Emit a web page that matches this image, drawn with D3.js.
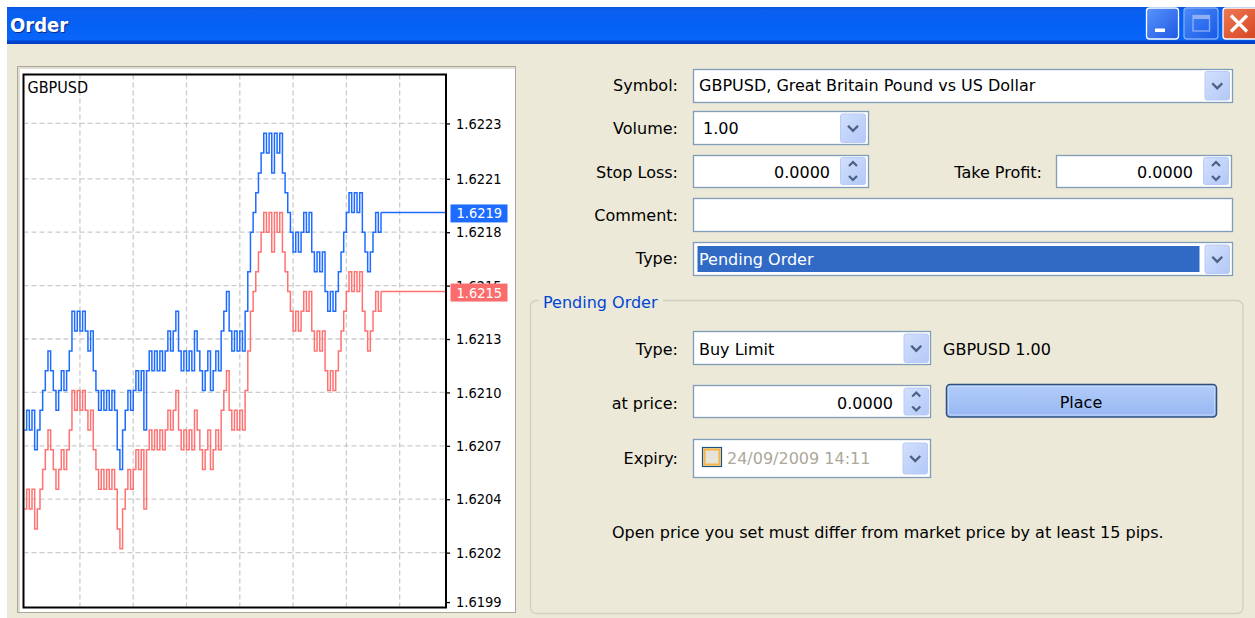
<!DOCTYPE html>
<html>
<head>
<meta charset="utf-8">
<script src="https://cdn.jsdelivr.net/npm/d3@7"></script>
<style>
  html, body { margin: 0; padding: 0; background: #fff; overflow: hidden; }
</style>
</head>
<body>
<div id="chart"></div>
<script>
// ---- data ----
const symbolName = "GBPUSD";

// ask ticks (blue) and bid ticks (red)
const askQuotes = [
  1.6208,1.6209,1.6208,1.6209,1.6207,1.6208,1.6209,1.6210,1.6211,1.6212,
  1.6211,1.6210,1.6209,1.6210,1.6211,1.6210,1.6211,1.6212,1.6214,1.6213,
  1.6214,1.6213,1.6214,1.6213,1.6212,1.6213,1.6211,1.6210,1.6209,1.6210,
  1.6209,1.6210,1.6209,1.6210,1.6209,1.6207,1.6206,1.6208,1.6209,1.6210,
  1.6209,1.6210,1.6211,1.6210,1.6211,1.6208,1.6211,1.6212,1.6211,1.6212,
  1.6211,1.6212,1.6211,1.6212,1.6213,1.6212,1.6213,1.6214,1.6212,1.6211,
  1.6212,1.6211,1.6212,1.6211,1.6213,1.6212,1.6211,1.6210,1.6211,1.6212,
  1.6210,1.6211,1.6212,1.6211,1.6213,1.6214,1.6215,1.6213,1.6212,1.6213,
  1.6212,1.6213,1.6212,1.6214,1.6216,1.6218,1.6219,1.6220,1.6221,1.6222,
  1.6223,1.6222,1.6223,1.6221,1.6223,1.6222,1.6223,1.6221,1.6220,1.6219,
  1.6218,1.6217,1.6218,1.6217,1.6218,1.6219,1.6218,1.6219,1.6217,1.6216,
  1.6217,1.6216,1.6217,1.6215,1.6214,1.6215,1.6214,1.6215,1.6216,1.6217,
  1.6218,1.6219,1.6220,1.6219,1.6220,1.6219,1.6220,1.6218,1.6217,1.6216,
  1.6217,1.6218,1.6219,1.6218,1.6219
];
const bidQuotes = [
  1.6204,1.6205,1.6204,1.6205,1.6203,1.6204,1.6205,1.6206,1.6207,1.6208,
  1.6207,1.6206,1.6205,1.6206,1.6207,1.6206,1.6207,1.6208,1.6210,1.6209,
  1.6210,1.6209,1.6210,1.6209,1.6208,1.6209,1.6207,1.6206,1.6205,1.6206,
  1.6205,1.6206,1.6205,1.6206,1.6205,1.6203,1.6202,1.6204,1.6205,1.6206,
  1.6205,1.6206,1.6207,1.6206,1.6207,1.6204,1.6207,1.6208,1.6207,1.6208,
  1.6207,1.6208,1.6207,1.6208,1.6209,1.6208,1.6209,1.6210,1.6208,1.6207,
  1.6208,1.6207,1.6208,1.6207,1.6209,1.6208,1.6207,1.6206,1.6207,1.6208,
  1.6206,1.6207,1.6208,1.6207,1.6209,1.6210,1.6211,1.6209,1.6208,1.6209,
  1.6208,1.6209,1.6208,1.6210,1.6212,1.6214,1.6215,1.6216,1.6217,1.6218,
  1.6219,1.6218,1.6219,1.6217,1.6219,1.6218,1.6219,1.6217,1.6216,1.6215,
  1.6214,1.6213,1.6214,1.6213,1.6214,1.6215,1.6214,1.6215,1.6213,1.6212,
  1.6213,1.6212,1.6213,1.6211,1.6210,1.6211,1.6210,1.6211,1.6212,1.6213,
  1.6214,1.6215,1.6216,1.6215,1.6216,1.6215,1.6216,1.6214,1.6213,1.6212,
  1.6213,1.6214,1.6215,1.6214,1.6215
];
const lastAsk = 1.6219;
const lastBid = 1.6215;

// price axis
const axisPrices = [1.62235, 1.62207, 1.62180, 1.62153, 1.62126, 1.62099, 1.62072, 1.62045, 1.62018, 1.61993];
const priceLabels = ["1.6223", "1.6221", "1.6218", "1.6215", "1.6213", "1.6210", "1.6207", "1.6204", "1.6202", "1.6199"];
const priceDomain = [1.6199, 1.6226];
// vertical grid every 20 ticks
const timeGridTicks = [21, 41, 61, 81, 101, 121, 141];

const CHART_FONT = "'DejaVu Sans Condensed', 'DejaVu Sans', sans-serif";
const UI_FONT = "'DejaVu Sans', sans-serif";
const W = 1255, H = 618;
const plot = {left: 23.5, right: 446, top: 74.5, bottom: 607.5};

const x = d3.scaleLinear()
    .domain([0, askQuotes.length - 1])
    .range([24, 381]);

const y = d3.scaleLinear()
    .domain(priceDomain)
    .range([608, 74]);

const svg = d3.select("#chart").append("svg")
    .attr("width", W)
    .attr("height", H)
    .attr("viewBox", [0, 0, W, H])
    .style("font-family", CHART_FONT);

const defs = svg.append("defs");

const titleGrad = defs.append("linearGradient").attr("id", "titleGrad")
    .attr("x1", 0).attr("y1", 0).attr("x2", 0).attr("y2", 1);
[["0%", "#0a55e0"], ["10%", "#0a5fef"], ["55%", "#0461f6"], ["88%", "#0a66fb"], ["92%", "#0048d4"], ["100%", "#003bbf"]]
    .forEach(s => titleGrad.append("stop").attr("offset", s[0]).attr("stop-color", s[1]));

const capGrad = defs.append("linearGradient").attr("id", "capGrad")
    .attr("x1", 0).attr("y1", 0).attr("x2", 1).attr("y2", 1);
capGrad.append("stop").attr("offset", "0%").attr("stop-color", "#5b95fb");
capGrad.append("stop").attr("offset", "100%").attr("stop-color", "#1d57e3");

const closeGrad = defs.append("linearGradient").attr("id", "closeGrad")
    .attr("x1", 0).attr("y1", 0).attr("x2", 1).attr("y2", 1);
closeGrad.append("stop").attr("offset", "0%").attr("stop-color", "#ee7a55");
closeGrad.append("stop").attr("offset", "100%").attr("stop-color", "#d3401c");

const btnGrad = defs.append("linearGradient").attr("id", "btnGrad")
    .attr("x1", 0).attr("y1", 0).attr("x2", 1).attr("y2", 1);
btnGrad.append("stop").attr("offset", "0%").attr("stop-color", "#d3e0fd");
btnGrad.append("stop").attr("offset", "100%").attr("stop-color", "#b2c8f7");

const placeGrad = defs.append("linearGradient").attr("id", "placeGrad")
    .attr("x1", 0).attr("y1", 0).attr("x2", 0).attr("y2", 1);
placeGrad.append("stop").attr("offset", "0%").attr("stop-color", "#b3cdf9");
placeGrad.append("stop").attr("offset", "100%").attr("stop-color", "#97b7f3");

defs.append("clipPath").attr("id", "plotClip")
    .append("rect")
    .attr("x", plot.left + 1).attr("y", plot.top + 1)
    .attr("width", plot.right - plot.left - 2).attr("height", plot.bottom - plot.top - 2);

// ---- window ----
svg.append("rect").attr("width", W).attr("height", H).attr("fill", "#fff");
svg.append("rect").attr("x", 7).attr("y", 7).attr("width", W - 7).attr("height", H - 7).attr("fill", "#ece9d8");
svg.append("rect").attr("x", 7).attr("y", 7).attr("width", W - 7).attr("height", 37).attr("fill", "url(#titleGrad)");

svg.append("text").attr("x", 11).attr("y", 32.5)
    .attr("font-size", 20).attr("font-weight", "bold").attr("fill", "#0b2a80")
    .text("Order");
svg.append("text").attr("x", 10).attr("y", 31.5)
    .attr("font-size", 20).attr("font-weight", "bold").attr("fill", "#fff")
    .text("Order");

// caption buttons
svg.append("rect").attr("x", 1146.5).attr("y", 8).attr("width", 32).attr("height", 31).attr("rx", 3)
    .attr("fill", "url(#capGrad)").attr("stroke", "#fff").attr("stroke-width", 1.3);
svg.append("rect").attr("x", 1155).attr("y", 28.5).attr("width", 10).attr("height", 3.5).attr("fill", "#fff");

svg.append("rect").attr("x", 1184).attr("y", 8).attr("width", 34).attr("height", 31).attr("rx", 3)
    .attr("fill", "url(#capGrad)").attr("stroke", "#9fbdf8").attr("stroke-width", 1.3).attr("opacity", 0.8);
svg.append("rect").attr("x", 1193).attr("y", 15.5).attr("width", 16.5).attr("height", 15.5)
    .attr("fill", "none").attr("stroke", "#8fb0f4").attr("stroke-width", 1.3);
svg.append("rect").attr("x", 1193).attr("y", 15).attr("width", 16.5).attr("height", 4).attr("fill", "#8fb0f4");

svg.append("rect").attr("x", 1223).attr("y", 8).attr("width", 40).attr("height", 31).attr("rx", 3)
    .attr("fill", "url(#closeGrad)").attr("stroke", "#fff").attr("stroke-width", 1.3);
svg.append("path").attr("d", "M1231,15.5L1247,31.5M1247,15.5L1231,31.5")
    .attr("stroke", "#fff").attr("stroke-width", 3.2);

// ---- chart panel ----
svg.append("rect").attr("x", 17.5).attr("y", 66.5).attr("width", 498).attr("height", 546)
    .attr("fill", "#fff").attr("stroke", "#aca899");
svg.append("path").attr("d", "M19,612V68H515")
    .attr("fill", "none").attr("stroke", "#d6d3c6").attr("stroke-width", 1.5);

const grid = svg.append("g")
    .attr("clip-path", "url(#plotClip)")
    .attr("stroke", "#cbcbcb")
    .attr("stroke-width", 1.3)
    .attr("stroke-dasharray", "5,3");

grid.selectAll("line.h")
    .data(axisPrices.slice(0, -1))
    .join("line")
    .attr("class", "h")
    .attr("x1", plot.left).attr("x2", plot.right)
    .attr("y1", d => y(d)).attr("y2", d => y(d));

grid.selectAll("line.v")
    .data(timeGridTicks)
    .join("line")
    .attr("class", "v")
    .attr("x1", d => x(d)).attr("x2", d => x(d))
    .attr("y1", plot.top).attr("y2", plot.bottom);

svg.append("text").attr("x", 27.5).attr("y", 92.5)
    .attr("font-size", 16).attr("fill", "#000")
    .text(symbolName);

// ticks drawn as steps, like the terminal does
const line = d3.line()
    .x((d, i) => x(i))
    .y(d => y(d))
    .curve(d3.curveStepAfter);

const series = svg.append("g").attr("clip-path", "url(#plotClip)").attr("fill", "none").attr("stroke-width", 1.5);

series.append("path").datum(bidQuotes)
    .attr("stroke", "#ff7272")
    .attr("d", line);
series.append("line")
    .attr("x1", x(bidQuotes.length - 1)).attr("x2", plot.right)
    .attr("y1", y(lastBid)).attr("y2", y(lastBid))
    .attr("stroke", "#ff7272");

series.append("path").datum(askQuotes)
    .attr("stroke", "#1e6cff")
    .attr("d", line);
series.append("line")
    .attr("x1", x(askQuotes.length - 1)).attr("x2", plot.right)
    .attr("y1", y(lastAsk)).attr("y2", y(lastAsk))
    .attr("stroke", "#1e6cff");

// price axis on the right
svg.append("g")
    .attr("transform", `translate(${plot.right},0)`)
    .call(d3.axisRight(y).tickValues(axisPrices).tickFormat((d, i) => priceLabels[i]).tickSize(4).tickPadding(6))
    .call(g => g.select(".domain").remove())
    .call(g => g.selectAll("line").attr("stroke", "#000").attr("stroke-width", 1.3))
    .call(g => g.selectAll("text")
        .attr("fill", "#000")
        .style("font-family", CHART_FONT)
        .style("font-size", "14.5px"));

// current price tags
const priceTag = (price, color) => {
    const g = svg.append("g");
    g.append("rect")
        .attr("x", 450.5).attr("y", y(price) - 8)
        .attr("width", 57).attr("height", 18)
        .attr("fill", color);
    g.append("text")
        .attr("x", 456.5).attr("y", y(price) + 6)
        .attr("fill", "#fff")
        .attr("font-size", 14.5)
        .text(price.toFixed(4));
};
priceTag(lastAsk, "#1e6cff");
priceTag(lastBid, "#fb6d6d");

svg.append("rect")
    .attr("x", plot.left).attr("y", plot.top)
    .attr("width", plot.right - plot.left).attr("height", plot.bottom - plot.top)
    .attr("fill", "none").attr("stroke", "#000").attr("stroke-width", 2);

// ---- order form ----
const ui = svg.append("g").attr("font-size", 16).attr("fill", "#000").style("font-family", UI_FONT);

const label = (text, xr, yb) => ui.append("text")
    .attr("x", xr).attr("y", yb).attr("text-anchor", "end").text(text);

const field = (x0, y0, w, h) => ui.append("rect")
    .attr("x", x0 + 0.5).attr("y", y0 + 0.5)
    .attr("width", w - 1).attr("height", h - 1)
    .attr("fill", "#fff").attr("stroke", "#7f9db9").attr("stroke-width", 1.3);

const dropButton = (x0, y0, w, h) => {
    ui.append("rect").attr("x", x0).attr("y", y0).attr("width", w).attr("height", h).attr("rx", 2)
        .attr("fill", "url(#btnGrad)").attr("stroke", "#b8cbf6");
    const cx = x0 + w / 2, cy = y0 + h / 2;
    ui.append("path").attr("d", `M${cx - 5},${cy - 2.5}L${cx},${cy + 2.5}L${cx + 5},${cy - 2.5}`)
        .attr("fill", "none").attr("stroke", "#4d6185").attr("stroke-width", 2.4);
};

const spinButton = (x0, y0, w, h) => {
    ui.append("rect").attr("x", x0).attr("y", y0).attr("width", w).attr("height", h).attr("rx", 2)
        .attr("fill", "url(#btnGrad)").attr("stroke", "#b8cbf6");
    const cx = x0 + w / 2;
    ui.append("path").attr("d", `M${cx - 4},${y0 + 8.5}L${cx},${y0 + 4.5}L${cx + 4},${y0 + 8.5}`)
        .attr("fill", "none").attr("stroke", "#4d6185").attr("stroke-width", 2.2);
    ui.append("path").attr("d", `M${cx - 4},${y0 + h - 8.5}L${cx},${y0 + h - 4.5}L${cx + 4},${y0 + h - 8.5}`)
        .attr("fill", "none").attr("stroke", "#4d6185").attr("stroke-width", 2.2);
};

label("Symbol:", 678, 91);
field(693, 69, 540, 34);
ui.append("text").attr("x", 699).attr("y", 91).text("GBPUSD, Great Britain Pound vs US Dollar");
dropButton(1205, 71.5, 24.5, 28.5);

label("Volume:", 678, 134);
field(693, 111, 176, 34);
ui.append("text").attr("x", 703).attr("y", 134).text("1.00");
dropButton(840.5, 114, 25, 28.5);

label("Stop Loss:", 678, 177.5);
field(693, 155, 176, 33);
ui.append("text").attr("x", 830).attr("y", 177.5).attr("text-anchor", "end").text("0.0000");
spinButton(840.5, 157.5, 25, 27);

label("Take Profit:", 1042, 177.5);
field(1056, 155, 176, 33);
ui.append("text").attr("x", 1193).attr("y", 177.5).attr("text-anchor", "end").text("0.0000");
spinButton(1203.5, 157.5, 25, 27);

label("Comment:", 678, 221);
field(693, 198, 540, 34);

label("Type:", 678, 264);
field(693, 242, 540, 34);
ui.append("rect").attr("x", 697.5).attr("y", 246).attr("width", 502).attr("height", 26).attr("fill", "#316ac5");
ui.append("text").attr("x", 699).attr("y", 264.5).attr("fill", "#fff").text("Pending Order");
dropButton(1205, 245, 24.5, 28.5);

// pending order group
ui.append("rect").attr("x", 530.5).attr("y", 300.5).attr("width", 712.5).attr("height", 313).attr("rx", 6)
    .attr("fill", "none").attr("stroke", "#d0d0bf").attr("stroke-width", 1.3);
ui.append("rect").attr("x", 539).attr("y", 292).attr("width", 124).attr("height", 18).attr("fill", "#ece9d8");
ui.append("text").attr("x", 543).attr("y", 307.5).attr("fill", "#0046d5").text("Pending Order");

label("Type:", 678, 355);
field(693, 331, 238, 34);
ui.append("text").attr("x", 699).attr("y", 355).text("Buy Limit");
dropButton(904, 334, 24.5, 28.5);
ui.append("text").attr("x", 943).attr("y", 354.5).text("GBPUSD 1.00");

label("at price:", 678, 408.5);
field(693, 385, 238, 33);
ui.append("text").attr("x", 893).attr("y", 408.5).attr("text-anchor", "end").text("0.0000");
spinButton(904, 388, 24.5, 27);

ui.append("rect").attr("x", 946.5).attr("y", 384.5).attr("width", 270).attr("height", 32.5).attr("rx", 3.5)
    .attr("fill", "url(#placeGrad)").attr("stroke", "#2f4f7f").attr("stroke-width", 1.5);
ui.append("rect").attr("x", 948.5).attr("y", 386.5).attr("width", 266).attr("height", 28.5).attr("rx", 2)
    .attr("fill", "none").attr("stroke", "#c4d8fb").attr("stroke-width", 1);
ui.append("text").attr("x", 1081).attr("y", 408).attr("text-anchor", "middle").text("Place");

label("Expiry:", 678, 463.5);
field(693, 439, 238, 39);
ui.append("rect").attr("x", 702.5).attr("y", 447.5).attr("width", 19).attr("height", 19)
    .attr("fill", "#e6e4da").attr("stroke", "#1c5180").attr("stroke-width", 1.2);
ui.append("rect").attr("x", 704.5).attr("y", 449.5).attr("width", 15).attr("height", 15)
    .attr("fill", "none").attr("stroke", "#f5b443").attr("stroke-width", 2);
ui.append("text").attr("x", 727).attr("y", 463.5).attr("fill", "#aca899").text("24/09/2009 14:11");
dropButton(903, 443, 24.5, 31);

ui.append("text").attr("x", 612).attr("y", 538).text("Open price you set must differ from market price by at least 15 pips.");
</script>
</body>
</html>
